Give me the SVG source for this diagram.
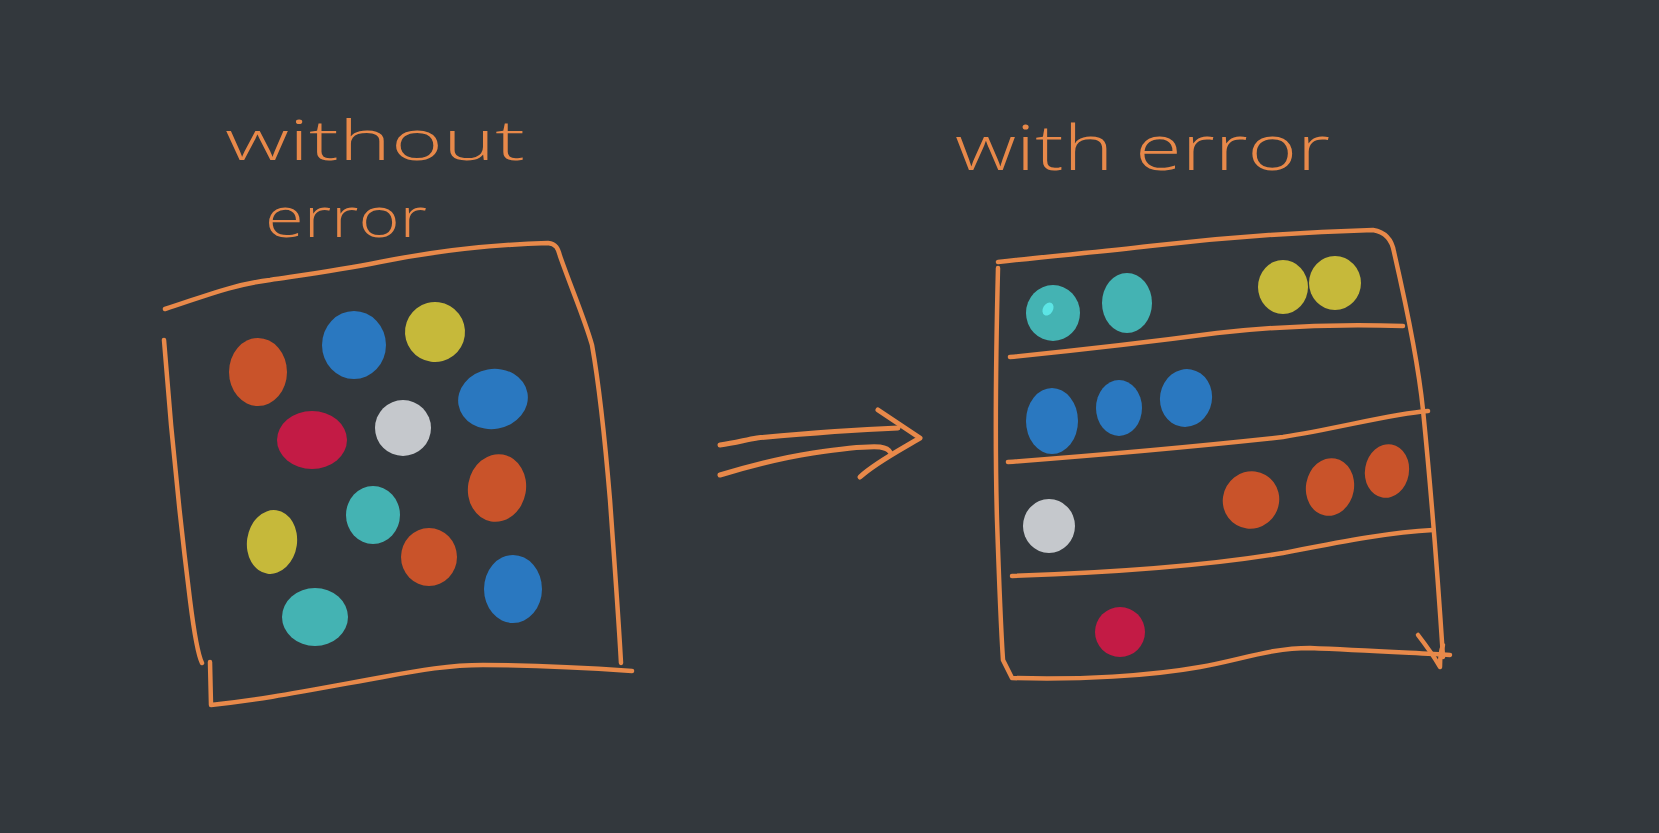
<svg xmlns="http://www.w3.org/2000/svg" width="1659" height="833" viewBox="0 0 1659 833">
<style>
.bg{fill:#33383d}
.pen{fill:none;stroke:#e8894a;stroke-width:4.5;stroke-linecap:round;stroke-linejoin:round}
.arr{fill:none;stroke:#e8894a;stroke-width:5;stroke-linecap:round;stroke-linejoin:round}
.lbl{fill:#e8894a;font-family:"Open Sans","DejaVu Sans",sans-serif;font-size:56px;font-weight:300}
.big{font-size:62px}
.or{fill:#c9532a}.bl{fill:#2a78c0}.ye{fill:#c6b93a}.rd{fill:#c31b45}.wh{fill:#c5c8cc}.te{fill:#44b3b3}
</style>
<rect class="bg" x="0" y="0" width="1659" height="833"/>

<g id="label-without-error">
<text class="lbl" x="225" y="160" textLength="300" lengthAdjust="spacingAndGlyphs">without</text>
<text class="lbl" x="265" y="237" textLength="162" lengthAdjust="spacingAndGlyphs">error</text>
</g>
<g id="label-with-error">
<text class="lbl big" x="955" y="170" textLength="375" lengthAdjust="spacingAndGlyphs">with error</text>
</g>

<g id="box-without-error">
<path class="pen" d="M165 309 C200 298 230 285 270 280 C310 274 340 270 380 262 C430 252 480 245 548 243 C556 244 558 248 560 256 C572 290 585 320 592 345 C600 390 605 440 610 500 C615 570 619 625 621 663"/>
<path class="pen" d="M164 340 C170 420 180 520 190 600 C195 640 198 655 202 663"/>
<path class="pen" d="M210 662 L211 705 C260 700 300 692 383 677 C420 670 450 665 483 665 C540 665 590 668 632 671"/>
<ellipse class="or" cx="258" cy="372" rx="29" ry="34"/>
<ellipse class="bl" cx="354" cy="345" rx="32" ry="34"/>
<ellipse class="ye" cx="435" cy="332" rx="30" ry="30" transform="rotate(-15 435 332)"/>
<ellipse class="bl" cx="493" cy="399" rx="35" ry="30" transform="rotate(-10 493 399)"/>
<ellipse class="rd" cx="312" cy="440" rx="35" ry="29"/>
<ellipse class="wh" cx="403" cy="428" rx="28" ry="28"/>
<ellipse class="or" cx="497" cy="488" rx="29" ry="34" transform="rotate(10 497 488)"/>
<ellipse class="te" cx="373" cy="515" rx="27" ry="29"/>
<ellipse class="ye" cx="272" cy="542" rx="25" ry="32" transform="rotate(8 272 542)"/>
<ellipse class="or" cx="429" cy="557" rx="28" ry="29"/>
<ellipse class="bl" cx="513" cy="589" rx="29" ry="34"/>
<ellipse class="te" cx="315" cy="617" rx="33" ry="29"/>
</g>

<g id="box-with-error">
<path class="pen" d="M998 262 C1050 256 1100 252 1150 246 C1220 238 1300 232 1373 230 C1385 232 1392 240 1394 252 C1405 300 1418 360 1423 410 C1430 480 1438 580 1443 657"/>
<path class="pen" d="M998 268 C996 350 995 450 997 520 C999 580 1001 630 1003 660 L1012 678 C1080 680 1150 676 1200 667 C1240 660 1270 648 1310 648 C1360 650 1410 653 1450 655"/>
<path class="pen" d="M1418 635 C1428 648 1436 660 1440 667 C1440 658 1441 650 1443 645"/>
<path class="pen" d="M1010 357 C1080 350 1150 342 1217 333 C1290 325 1350 324 1403 326"/>
<path class="pen" d="M1008 462 C1100 455 1200 446 1283 437 C1340 428 1390 414 1428 411"/>
<path class="pen" d="M1012 576 C1100 573 1200 567 1283 553 C1340 542 1390 532 1433 530"/>
<ellipse class="te" cx="1053" cy="313" rx="27" ry="28"/>
<ellipse cx="1048" cy="309" rx="5" ry="7" fill="#5ce5e5" transform="rotate(30 1048 309)"/>
<ellipse class="te" cx="1127" cy="303" rx="25" ry="30"/>
<ellipse class="ye" cx="1283" cy="287" rx="25" ry="27"/>
<ellipse class="ye" cx="1335" cy="283" rx="26" ry="27"/>
<ellipse class="bl" cx="1052" cy="421" rx="26" ry="33"/>
<ellipse class="bl" cx="1119" cy="408" rx="23" ry="28"/>
<ellipse class="bl" cx="1186" cy="398" rx="26" ry="29" transform="rotate(10 1186 398)"/>
<ellipse class="wh" cx="1049" cy="526" rx="26" ry="27"/>
<ellipse class="or" cx="1251" cy="500" rx="28" ry="29" transform="rotate(30 1251 500)"/>
<ellipse class="or" cx="1330" cy="487" rx="24" ry="29" transform="rotate(10 1330 487)"/>
<ellipse class="or" cx="1387" cy="471" rx="22" ry="27" transform="rotate(10 1387 471)"/>
<ellipse class="rd" cx="1120" cy="632" rx="25" ry="25"/>
</g>

<g id="connectors">
<path class="arr" d="M720 445 C735 443 745 440 757 438 C800 434 850 430 898 428"/>
<path class="arr" d="M720 475 C750 466 780 458 813 453 C840 449 865 446 880 447 C886 448 889 450 890 452"/>
<path class="arr" d="M878 410 L920 438 C900 450 875 463 860 477"/>
</g>
</svg>
